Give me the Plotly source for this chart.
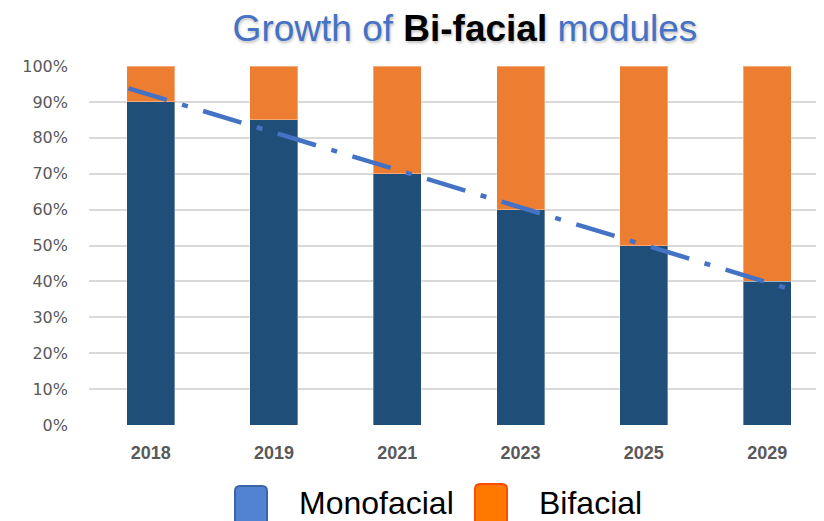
import numpy as np
import plotly.graph_objects as go

years = ["2018", "2019", "2021", "2023", "2025", "2029"]
monofacial = [90, 85, 70, 60, 50, 40]
bifacial = [10, 15, 30, 40, 50, 60]
y_ticks = [0, 10, 20, 30, 40, 50, 60, 70, 80, 90, 100]
y_tick_labels = [f"{v}%" for v in y_ticks]

OFF = 8  # page body margin of the html page
W, H = 824, 521
# plot area on screen: x 89..824, y 66..425
L, R, T, B = 89 - OFF, OFF, 66 - OFF, H - (425 - OFF)
PW, PH = W - L - R, H - T - B
CAT = 123.3

xs = np.arange(len(years))

# linear trendline of monofacial share
slope, intercept = np.polyfit(xs + 1, monofacial, 1)
trend_x = np.array([-0.18, len(years) - 1 + 0.23])
trend_y = slope * (trend_x + 1) + intercept

fig = go.Figure()
fig.add_trace(go.Bar(x=xs, y=monofacial, name="Monofacial", marker_color="#1F4E79",
                     marker_line=dict(color="rgba(255,255,255,0.35)", width=1), width=0.39,
                     showlegend=False))
fig.add_trace(go.Bar(x=xs, y=bifacial, name="Bifacial", marker_color="#ED7D31",
                     marker_line=dict(color="rgba(255,255,255,0.35)", width=1), width=0.39,
                     showlegend=False))
fig.add_trace(go.Scatter(x=trend_x, y=trend_y, mode="lines", showlegend=False,
                         line=dict(color="#4472C4", width=4.5, dash="40px,16px,6px,16px")))


def px_to_paper(sx, sy):
    fx, fy = sx - OFF, sy - OFF
    return (fx - L) / PW, (H - B - fy) / PH


def rounded_box(x0, y0, x1, y1, r, fill, border):
    (a, b) = px_to_paper(x0, y0)
    (c, d) = px_to_paper(x1, y1)
    rx, ry = r / PW, r / PH
    path = (f"M {a+rx},{b} L {c-rx},{b} Q {c},{b} {c},{b-ry} L {c},{d+ry} Q {c},{d} {c-rx},{d} "
            f"L {a+rx},{d} Q {a},{d} {a},{d+ry} L {a},{b-ry} Q {a},{b} {a+rx},{b} Z")
    fig.add_shape(type="path", path=path, xref="paper", yref="paper",
                  fillcolor=fill, line=dict(color=border, width=2), layer="above")


rounded_box(235, 486, 267, 526, 5, "#5282D2", "#3C64A8")
rounded_box(475, 484, 507, 526, 5, "#FF7800", "#FF4A00")

for label, cx in [("Monofacial", 297), ("Bifacial", 537)]:
    px, py = px_to_paper(cx, 503)
    fig.add_annotation(text=label, x=px, y=py, xref="paper", yref="paper",
                       xanchor="left", yanchor="middle", showarrow=False,
                       font=dict(family="Liberation Sans, Arial", size=32, color="#000000"))

fig.update_layout(
    width=W, height=H,
    margin=dict(l=L, r=R, t=T, b=B),
    barmode="stack",
    plot_bgcolor="white", paper_bgcolor="white",
    title=dict(
        text="Growth of <b><span style='color:#000000'>Bi-facial</span></b> modules",
        x=(465 - OFF) / W, xref="container", xanchor="center",
        y=1 - (28 - OFF) / H, yref="container", yanchor="middle",
        font=dict(family="Liberation Sans, Arial", size=37, color="#4472C4",
                  shadow="1px 2px 3px rgba(0,0,0,0.25)"),
    ),
    xaxis=dict(range=[-0.5, -0.5 + PW / CAT], tickvals=list(xs), ticktext=years,
               showgrid=False, zeroline=False, showline=False, ticks="",
               tickfont=dict(family="Liberation Sans, Arial", size=18, color="#595959", weight="bold"),
               ticklabelstandoff=15, fixedrange=True),
    yaxis=dict(range=[0, 100], tickvals=y_ticks, ticktext=y_tick_labels,
               showgrid=True, gridcolor="#D9D9D9", gridwidth=1.5, zeroline=False,
               showline=False, ticks="", ticklabelstandoff=20,
               tickfont=dict(family="DejaVu Sans", size=16, color="#595959")),
)

fig.write_html("out.html")
